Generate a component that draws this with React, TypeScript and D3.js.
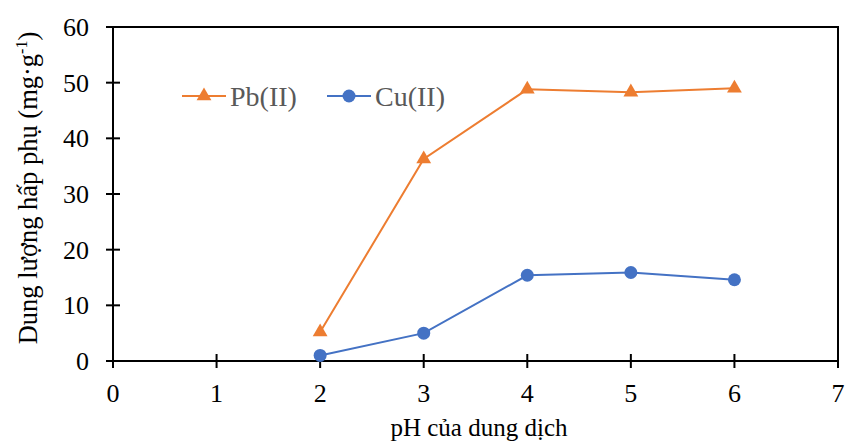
import React, { useEffect, useRef } from 'react';
import * as d3 from 'd3';

const phValues = [2, 3, 4, 5, 6];
const pbValues = [5.2, 36.3, 48.8, 48.3, 49.0];
const cuValues = [1.0, 5.0, 15.4, 15.9, 14.6];
const xTicks = [0, 1, 2, 3, 4, 5, 6, 7];
const yTicks = [0, 10, 20, 30, 40, 50, 60];

const ORANGE = '#ED7D31';
const BLUE = '#4472C4';
const FONT = "'Liberation Serif', 'Times New Roman', serif";

export default function App() {
  const ref = useRef<SVGSVGElement>(null);

  useEffect(() => {
    const width = 847, height = 441;
    const margin = { top: 27, right: 9, bottom: 80, left: 113 };
    const innerW = width - margin.left - margin.right;
    const innerH = height - margin.top - margin.bottom;

    const svg = d3.select(ref.current);
    svg.selectAll('*').remove();
    const g = svg.append('g').attr('transform', `translate(${margin.left},${margin.top})`);

    const x = d3.scaleLinear().domain([0, 7]).range([0, innerW]);
    const y = d3.scaleLinear().domain([0, 60]).range([innerH, 0]);

    // plot frame
    g.append('rect').attr('width', innerW).attr('height', innerH)
      .attr('fill', 'none').attr('stroke', '#000').attr('stroke-width', 2);

    // ticks cross the axis lines
    g.selectAll('.ytick').data(yTicks).join('line').attr('class', 'ytick')
      .attr('x1', -7).attr('x2', 7).attr('y1', d => y(d)).attr('y2', d => y(d))
      .attr('stroke', '#000').attr('stroke-width', 2);
    g.selectAll('.xtick').data(xTicks).join('line').attr('class', 'xtick')
      .attr('x1', d => x(d)).attr('x2', d => x(d)).attr('y1', innerH - 7).attr('y2', innerH + 7)
      .attr('stroke', '#000').attr('stroke-width', 2);

    g.selectAll('.ylab').data(yTicks).join('text').attr('class', 'ylab')
      .attr('x', -24).attr('y', d => y(d)).attr('dy', '0.34em')
      .attr('text-anchor', 'end').style('font-family', FONT).style('font-size', '26px')
      .text(d => d);
    g.selectAll('.xlab').data(xTicks).join('text').attr('class', 'xlab')
      .attr('x', d => x(d)).attr('y', innerH + 41)
      .attr('text-anchor', 'middle').style('font-family', FONT).style('font-size', '26px')
      .text(d => d);

    // axis titles
    svg.append('text').attr('x', 479).attr('y', 436).attr('text-anchor', 'middle')
      .style('font-family', FONT).style('font-size', '25px').text('pH của dung dịch');
    const yt = svg.append('text').attr('transform', `translate(37,188) rotate(-90)`)
      .attr('text-anchor', 'middle').style('font-family', FONT).style('font-size', '26.5px');
    yt.append('tspan').text('Dung lượng hấp phụ (mg·g');
    yt.append('tspan').attr('dy', -10).style('font-size', '16px').text('-1');
    yt.append('tspan').attr('dy', 10).text(')');

    const line = d3.line<number>().x((_, i) => x(phValues[i])).y(d => y(d));
    const tri = d3.symbol().type(d3.symbolTriangle).size(95);

    g.append('path').datum(pbValues).attr('d', line).attr('fill', 'none')
      .attr('stroke', ORANGE).attr('stroke-width', 2);
    g.selectAll('.pb').data(pbValues).join('path').attr('class', 'pb')
      .attr('d', tri).attr('fill', ORANGE)
      .attr('transform', (d, i) => `translate(${x(phValues[i])},${y(d)})`);

    g.append('path').datum(cuValues).attr('d', line).attr('fill', 'none')
      .attr('stroke', BLUE).attr('stroke-width', 2);
    g.selectAll('.cu').data(cuValues).join('circle').attr('class', 'cu')
      .attr('cx', (d, i) => x(phValues[i])).attr('cy', d => y(d)).attr('r', 6.5).attr('fill', BLUE);

    // legend
    const legend = [
      { name: 'Pb(II)', color: ORANGE, marker: 'tri', x: 182 },
      { name: 'Cu(II)', color: BLUE, marker: 'circle', x: 327 },
    ];
    legend.forEach(item => {
      const row = svg.append('g').attr('transform', `translate(${item.x},96)`);
      row.append('line').attr('x1', 0).attr('x2', 44).attr('stroke', item.color).attr('stroke-width', 2);
      if (item.marker === 'tri') {
        row.append('path').attr('d', tri).attr('fill', item.color).attr('transform', 'translate(22,0)');
      } else {
        row.append('circle').attr('cx', 22).attr('r', 6.5).attr('fill', item.color);
      }
      row.append('text').attr('x', 48).attr('dy', '0.34em').attr('fill', '#595959')
        .style('font-family', FONT).style('font-size', '28px').text(item.name);
    });
  }, []);

  return <svg ref={ref} width={847} height={441} style={{ position: 'absolute', left: 0, top: 0 }} />;
}
